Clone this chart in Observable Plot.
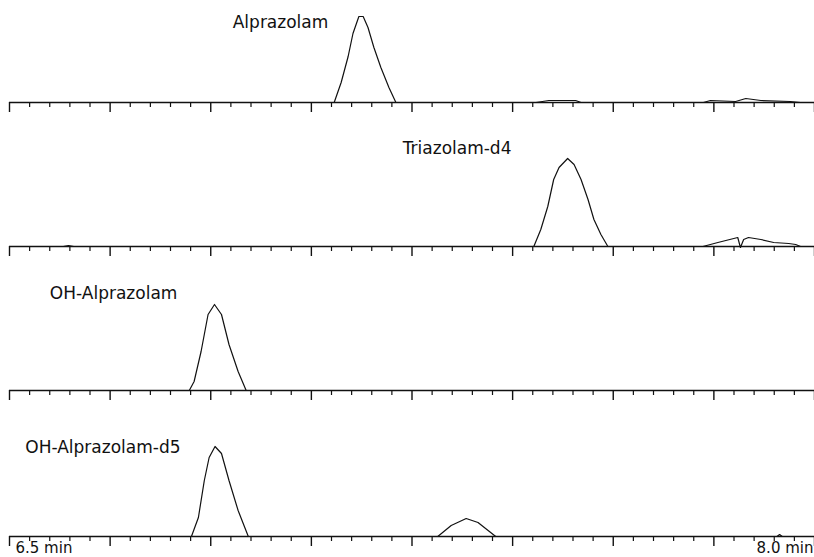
<!DOCTYPE html>
<html>
<head>
<meta charset="utf-8">
<script src="https://cdn.jsdelivr.net/npm/d3@7"></script>
<script src="https://cdn.jsdelivr.net/npm/@observablehq/plot@0.6"></script>
<style>
  html, body { margin: 0; padding: 0; background: #fff; }
  #chart { width: 814px; height: 557px; overflow: hidden; }
  #chart svg { display: block; overflow: visible; }
</style>
</head>
<body>
<div id="chart"></div>
<script>
// Panel names (compound traces)
const panels = ["Alprazolam", "Triazolam-d4", "OH-Alprazolam", "OH-Alprazolam-d5"];

// Retention time (min) and intensity (relative) for each trace
const alprazolamTime = [6.5, 7.0, 7.105, 7.118, 7.131, 7.140, 7.151, 7.159, 7.168, 7.179, 7.192, 7.207, 7.220, 7.481, 7.505, 7.555, 7.565, 7.793, 7.806, 7.853, 7.872, 7.900, 7.955, 7.974, 8.0];
const alprazolamInt  = [0,   0,   0,     20,    46,    69,    86,    86,    75,    55,    35,    15,    0,     0,     2,     2,     0,     0,     2,     1,     4,     2,     1,     0,     0];

const triazolamTime = [6.5, 6.600, 6.610, 6.620, 6.700, 7.477, 7.490, 7.503, 7.514, 7.524, 7.540, 7.552, 7.565, 7.578, 7.589, 7.602, 7.615, 7.792, 7.820, 7.857, 7.862, 7.868, 7.877, 7.900, 7.924, 7.952, 7.965, 7.974, 8.0];
const triazolamInt  = [0,   0,     1,     0,     0,     0,     17,    40,    67,    79,    88,    82,    67,    47,    27,    12,    0,     0,     4,     9,     -1,    7,     9,     7,     4,     3,     2,     0,     0];

const ohAlprazolamTime = [6.5, 6.835, 6.844, 6.857, 6.870, 6.882, 6.895, 6.909, 6.926, 6.941, 8.0];
const ohAlprazolamInt  = [0,   0,     9,     39,    76,    86,    76,    46,    19,    0,     0];

const ohAlprazolamD5Time = [6.5, 6.839, 6.852, 6.863, 6.872, 6.883, 6.895, 6.909, 6.926, 6.945, 7.298, 7.323, 7.351, 7.373, 7.406, 7.930, 7.935, 7.940, 8.0];
const ohAlprazolamD5Int  = [0,   0,     19,    56,    79,    90,    83,    56,    26,    0,     0,     11,    18,    14,    0,     0,     2,     0,     0];

// Label positions (time, intensity level) for each trace name
const labelTime  = [7.005, 7.334, 6.694, 6.674];
const labelLevel = [80, 98, 97, 89];

// Axis end labels
const axisLabels = ["6.5 min", "8.0 min"];
const axisLabelTimes = [6.5, 8.0];

// Tick positions: 40 minor intervals, major every 5th
const allTicks = d3.range(0, 41).map(i => 6.5 + i * 1.5 / 40);
const majorTicks = allTicks.filter((d, i) => i % 5 === 0);
const minorTicks = allTicks.filter((d, i) => i % 5 !== 0);

const traces = [
  [alprazolamTime, alprazolamInt],
  [triazolamTime, triazolamInt],
  [ohAlprazolamTime, ohAlprazolamInt],
  [ohAlprazolamD5Time, ohAlprazolamD5Int]
];

const font = "'DejaVu Sans', Verdana, sans-serif";
const container = document.getElementById("chart");

panels.forEach((name, p) => {
  const [ts, vs] = traces[p];
  const data = ts.map((t, i) => ({t, v: vs[i]}));
  const last = p === panels.length - 1;
  const marks = [
    Plot.ruleY([0], {stroke: "#111", strokeWidth: 1.4}),
    Plot.axisX({ticks: minorTicks, tickSize: 5, tickFormat: () => "", label: null, stroke: "#111", strokeWidth: 1.2}),
    Plot.axisX({ticks: majorTicks, tickSize: 10, tickFormat: () => "", label: null, stroke: "#111", strokeWidth: 1.4}),
    Plot.line(data, {x: "t", y: "v", stroke: "#111", strokeWidth: 1.2}),
    Plot.text([name], {x: () => labelTime[p], y: () => labelLevel[p], text: d => d,
      fontSize: 17, fill: "#111", textAnchor: "middle", fontFamily: font})
  ];
  if (last) {
    marks.push(Plot.text([axisLabels[0]], {x: () => axisLabelTimes[0], text: d => d,
      frameAnchor: "bottom", dy: 16, dx: 6, fontSize: 15, fill: "#111",
      textAnchor: "start", fontFamily: font}));
    marks.push(Plot.text([axisLabels[1]], {x: () => axisLabelTimes[1], text: d => d,
      frameAnchor: "bottom", dy: 16, dx: -1, fontSize: 15, fill: "#111",
      textAnchor: "end", fontFamily: font}));
  }
  const plot = Plot.plot({
    width: 814,
    height: last ? 125 : 144,
    marginLeft: 9,
    marginRight: 0,
    marginTop: last ? 4 : 2,
    marginBottom: last ? 21 : 42,
    x: {domain: [6.5, 8.0], axis: null, label: null},
    y: {domain: [0, 100], axis: null, label: null},
    style: {fontFamily: font, background: "white", overflow: "visible"},
    marks
  });
  container.appendChild(plot);
});
</script>
</body>
</html>
